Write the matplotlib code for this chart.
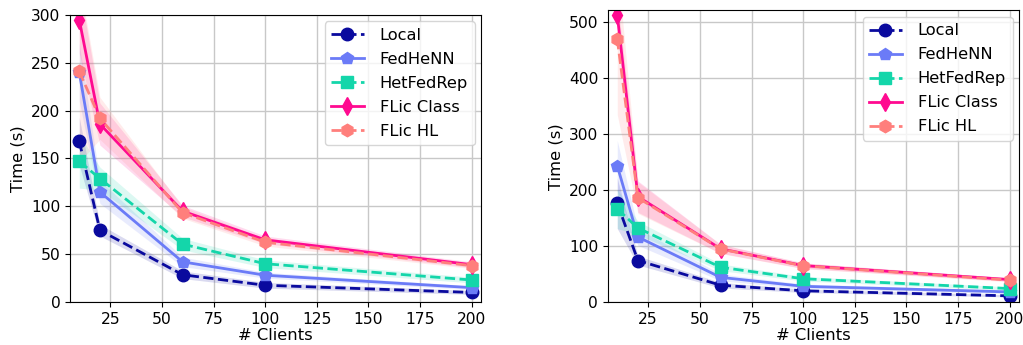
import matplotlib
matplotlib.use("Agg")
import matplotlib.pyplot as plt
import numpy as np

clients = [10, 20, 60, 100, 200]
methods = ["Local", "FedHeNN", "HetFedRep", "FLic Class", "FLic HL"]

# Mean training time (s) per method, left panel
left_mean = {
    "Local":      [168, 75, 28.5, 17.5, 10],
    "FedHeNN":    [240, 115, 42, 28, 15],
    "HetFedRep":  [147, 129, 60.5, 40, 23],
    "FLic Class": [295, 186, 95, 65, 39],
    "FLic HL":    [241, 192, 93.5, 62.5, 38],
}
# Standard deviation bands, left panel
left_std = {
    "Local":      [25, 6, 4, 3, 2],
    "FedHeNN":    [30, 12, 5, 3, 2],
    "HetFedRep":  [28, 12, 6, 4, 3],
    "FLic Class": [35, 22, 6, 4, 3],
    "FLic HL":    [95, 22, 6, 4, 3],
}

# Mean training time (s) per method, right panel
right_mean = {
    "Local":      [176, 74, 30, 20, 11],
    "FedHeNN":    [243, 116, 44, 28, 18],
    "HetFedRep":  [166, 132, 62, 41.5, 24],
    "FLic Class": [512, 188, 95, 65, 40],
    "FLic HL":    [469, 186, 94.5, 64.5, 39],
}
right_std = {
    "Local":      [45, 8, 5, 3, 2],
    "FedHeNN":    [45, 15, 6, 4, 3],
    "HetFedRep":  [35, 12, 6, 4, 3],
    "FLic Class": [30, 28, 8, 5, 3],
    "FLic HL":    [135, 28, 8, 5, 3],
}

colors = {
    "Local": "#0a0a9e",
    "FedHeNN": "#6b7bf7",
    "HetFedRep": "#14d6aa",
    "FLic Class": "#ff0a90",
    "FLic HL": "#ff7f7c",
}
markers = {"Local": "o", "FedHeNN": "p", "HetFedRep": "s", "FLic Class": "d", "FLic HL": "h"}
styles = {"Local": "--", "FedHeNN": "-", "HetFedRep": "--", "FLic Class": "-", "FLic HL": "--"}

plt.rcParams["font.family"] = "DejaVu Sans"

fig = plt.figure(figsize=(10.23, 3.45), dpi=100)
ax1 = fig.add_axes([0.0684, 0.1246, 0.4018, 0.832])
ax2 = fig.add_axes([0.5943, 0.1246, 0.4018, 0.845])

x = np.array(clients)


def draw(ax, means, stds, ymax, yticks):
    for m in methods:
        mu = np.array(means[m], dtype=float)
        sd = np.array(stds[m], dtype=float)
        ax.fill_between(x, mu - sd, mu + sd, color=colors[m], alpha=0.15, linewidth=0)
        ax.plot(x, mu, linestyle=styles[m], marker=markers[m], color=colors[m],
                linewidth=2, markersize=9, label=m)
    ax.set_xlim(5.5, 204.5)
    ax.set_ylim(0, ymax)
    ax.set_xticks([25, 50, 75, 100, 125, 150, 175, 200])
    ax.set_yticks(yticks)
    ax.grid(True, color="#c8c8c8", linewidth=1)
    ax.set_axisbelow(True)
    ax.tick_params(labelsize=11.2)
    ax.set_xlabel("# Clients", fontsize=11.8, labelpad=1)
    ax.set_ylabel("Time (s)", fontsize=11.8)
    ax.legend(loc="upper right", fontsize=11.7, framealpha=0.8, handlelength=2.0,
              handletextpad=1.0, labelspacing=0.55, borderaxespad=0.4)


draw(ax1, left_mean, left_std, 300, [0, 50, 100, 150, 200, 250, 300])
draw(ax2, right_mean, right_std, 520, [0, 100, 200, 300, 400, 500])

fig.savefig("out.png", dpi=100)
